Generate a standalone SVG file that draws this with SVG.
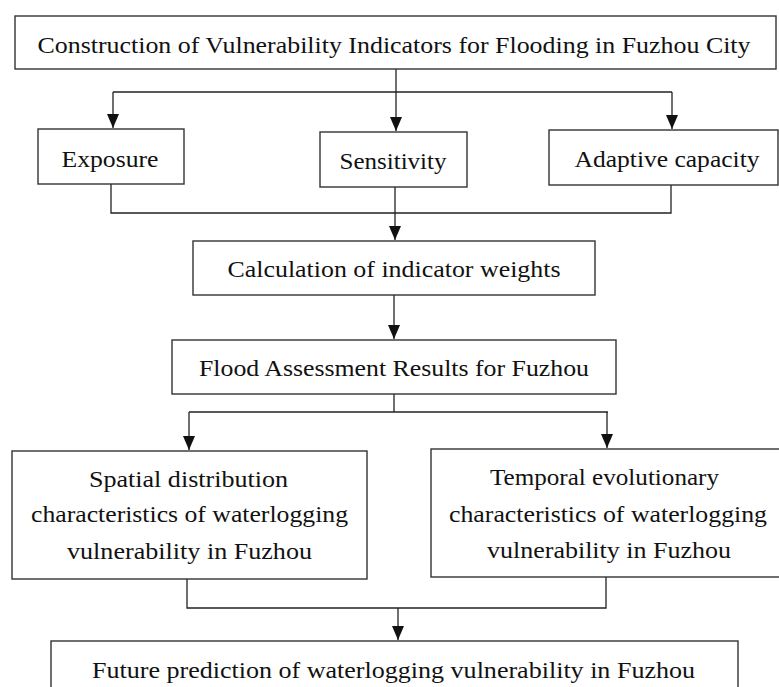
<svg xmlns="http://www.w3.org/2000/svg" width="779" height="687" viewBox="0 0 779 687">
<style>
.box{fill:#fff;stroke:#333;stroke-width:1.4}
.t{font-family:"Liberation Serif","Times New Roman",serif;font-size:24px;fill:#111;text-anchor:middle}
.c{fill:none;stroke:#222;stroke-width:1.3}
</style>
<defs>
<marker id="arr" viewBox="0 0 14 12" refX="14" refY="6" markerWidth="14" markerHeight="12" markerUnits="userSpaceOnUse" orient="auto">
<path d="M0,0 L14,6 L0,12 z" fill="#111"/>
</marker>
</defs>
<rect width="779" height="687" fill="#fff"/>
<g id="connectors">
<path class="c" d="M396,69 V131" marker-end="url(#arr)"/>
<path class="c" d="M113,92 H672"/>
<path class="c" d="M113,92 V128" marker-end="url(#arr)"/>
<path class="c" d="M672,92 V129" marker-end="url(#arr)"/>
<path class="c" d="M111,184 V213 H671 V185"/>
<path class="c" d="M395,187 V240" marker-end="url(#arr)"/>
<path class="c" d="M394,295 V339" marker-end="url(#arr)"/>
<path class="c" d="M394,394 V412"/>
<path class="c" d="M189,412 H608"/>
<path class="c" d="M189,412 V450" marker-end="url(#arr)"/>
<path class="c" d="M607,412 V448" marker-end="url(#arr)"/>
<path class="c" d="M187,579 V608 H606 V577"/>
<path class="c" d="M398,608 V640" marker-end="url(#arr)"/>
</g>
<g id="n-top">
<rect class="box" x="15" y="16" width="761" height="53"/>
<text class="t" x="394" y="53" font-size="26" textLength="713" lengthAdjust="spacingAndGlyphs">Construction of Vulnerability Indicators for Flooding in Fuzhou City</text>
</g>
<g id="n-exposure">
<rect class="box" x="38" y="129" width="146" height="55"/>
<text class="t" x="110" y="167" textLength="97" lengthAdjust="spacingAndGlyphs">Exposure</text>
</g>
<g id="n-sensitivity">
<rect class="box" x="320" y="132" width="147" height="55"/>
<text class="t" x="393" y="169" textLength="107" lengthAdjust="spacingAndGlyphs">Sensitivity</text>
</g>
<g id="n-adaptive">
<rect class="box" x="549" y="130" width="229" height="55"/>
<text class="t" x="667" y="167" textLength="185" lengthAdjust="spacingAndGlyphs">Adaptive capacity</text>
</g>
<g id="n-calc">
<rect class="box" x="193" y="241" width="402" height="54"/>
<text class="t" x="394" y="277" textLength="333" lengthAdjust="spacingAndGlyphs">Calculation of indicator weights</text>
</g>
<g id="n-flood">
<rect class="box" x="172" y="340" width="444" height="54"/>
<text class="t" x="394" y="376" textLength="390" lengthAdjust="spacingAndGlyphs">Flood Assessment Results for Fuzhou</text>
</g>
<g id="n-spatial">
<rect class="box" x="12" y="451" width="355" height="128"/>
<text class="t" x="188.5" y="487" textLength="199" lengthAdjust="spacingAndGlyphs">Spatial distribution</text>
<text class="t" x="189.5" y="522" textLength="317" lengthAdjust="spacingAndGlyphs">characteristics of waterlogging</text>
<text class="t" x="189.5" y="559" textLength="245" lengthAdjust="spacingAndGlyphs">vulnerability in Fuzhou</text>
</g>
<g id="n-temporal">
<rect class="box" x="431" y="449" width="360" height="128"/>
<text class="t" x="604.5" y="485" textLength="229" lengthAdjust="spacingAndGlyphs">Temporal evolutionary</text>
<text class="t" x="608" y="522" textLength="318" lengthAdjust="spacingAndGlyphs">characteristics of waterlogging</text>
<text class="t" x="609" y="558" textLength="244" lengthAdjust="spacingAndGlyphs">vulnerability in Fuzhou</text>
</g>
<g id="n-future">
<rect class="box" x="51" y="641" width="687" height="60"/>
<text class="t" x="393.5" y="678" textLength="603" lengthAdjust="spacingAndGlyphs">Future prediction of waterlogging vulnerability in Fuzhou</text>
</g>
</svg>
